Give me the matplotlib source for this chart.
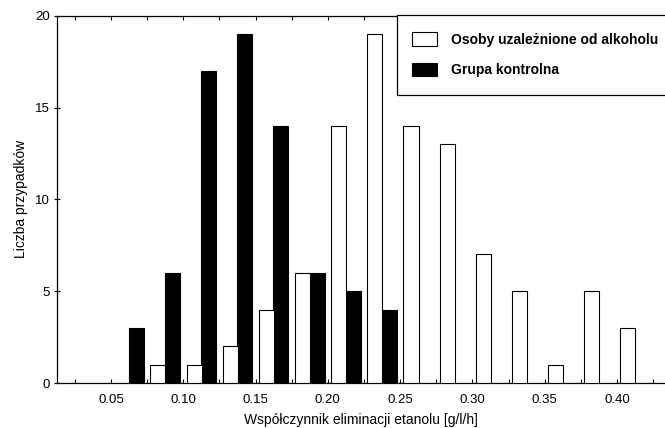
import matplotlib
matplotlib.use("Agg")
import matplotlib.pyplot as plt
import numpy as np
from matplotlib.patches import Rectangle, Patch
from matplotlib.ticker import MultipleLocator

plt.rcParams['font.family'] = ['Liberation Sans', 'DejaVu Sans']

# bin centres (g/l/h) and counts
bins_alk = [0.075, 0.100, 0.125, 0.150, 0.175, 0.200, 0.225, 0.250,
            0.275, 0.300, 0.325, 0.350, 0.375, 0.400]
counts_alk = [1, 1, 2, 4, 6, 14, 19, 14, 13, 7, 5, 1, 5, 3]

bins_kontr = [0.075, 0.100, 0.125, 0.150, 0.175, 0.200, 0.225, 0.250]
counts_kontr = [3, 6, 17, 19, 14, 6, 5, 4]

label_alk = 'Osoby uzależnione od alkoholu'
label_kontr = 'Grupa kontrolna'

W, H = 665, 428
fig = plt.figure(figsize=(W / 100, H / 100), dpi=100)
ax = fig.add_axes([57 / W, 1 - 383 / H, 1 - 57 / W, (383 - 15.7) / H])

bw = 0.0104
off = 0.0075
ax.bar(np.array(bins_kontr) - off, counts_kontr, width=bw, color='black',
       edgecolor='black', linewidth=0.8, zorder=3)
ax.bar(np.array(bins_alk) + off, counts_alk, width=bw, color='white',
       edgecolor='black', linewidth=0.8, zorder=3)

ax.set_xlim(0.0127, 0.0127 + (W - 57) / 1446)
ax.set_ylim(0, 20)
ax.xaxis.set_major_locator(MultipleLocator(0.05))
ax.xaxis.set_minor_locator(MultipleLocator(0.025))
ax.yaxis.set_major_locator(MultipleLocator(5))
ax.xaxis.set_major_formatter(matplotlib.ticker.FormatStrFormatter('%.2f'))

ax.tick_params(axis='x', which='both', direction='in', top=True, length=3,
               width=0.8, labelsize=9.5, pad=8)
ax.tick_params(axis='y', which='both', direction='inout', length=4,
               width=0.8, labelsize=9.5, pad=3)
ax.spines['right'].set_visible(False)
for s in ['left', 'top', 'bottom']:
    ax.spines[s].set_linewidth(0.9)

ax.set_xlabel('Współczynnik eliminacji etanolu [g/l/h]', fontsize=10, labelpad=5)
ax.set_ylabel('Liczba przypadków', fontsize=10, labelpad=5)

# legend box
fig.patches.append(Rectangle((397 / W, 1 - 95 / H), 300 / W, 80 / H,
                             transform=fig.transFigure, facecolor='white',
                             edgecolor='black', linewidth=0.9, zorder=5))
handles = [Patch(facecolor='white', edgecolor='black', linewidth=0.8, label=label_alk),
           Patch(facecolor='black', edgecolor='black', linewidth=0.8, label=label_kontr)]
leg = fig.legend(handles=handles, loc='upper left', frameon=False,
                 bbox_to_anchor=(412 / W, 1 - 32 / H), bbox_transform=fig.transFigure,
                 borderaxespad=0, borderpad=0, handlelength=1.8, handleheight=1.15,
                 handletextpad=1.0, labelspacing=1.15,
                 prop={'weight': 'bold', 'size': 10})
leg.set_zorder(6)

fig.savefig('out.png', dpi=100)
